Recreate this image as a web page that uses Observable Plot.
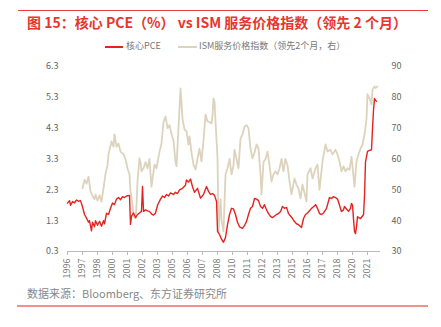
<!DOCTYPE html>
<html><head><meta charset="utf-8">
<script src="https://cdn.jsdelivr.net/npm/d3@7"></script>
<script src="https://cdn.jsdelivr.net/npm/@observablehq/plot@0.6"></script>
<style>
html,body{margin:0;padding:0;background:#fff;}
body{width:441px;height:327px;position:relative;overflow:hidden;font-family:"Noto Sans CJK SC","Noto Sans",sans-serif;}
.abs{position:absolute;white-space:nowrap;}
#topline{left:18px;top:10px;width:410px;height:1px;background:#e8413c;}
#title{left:27px;top:13px;font-size:14px;font-weight:bold;color:#e8352e;line-height:18px;}
#legend{left:0;top:40px;width:441px;height:12px;font-size:9px;color:#777;line-height:12px;}
.sw{position:absolute;top:6px;height:2px;}
#source{left:27px;top:286px;font-size:11px;color:#888;line-height:14px;}
#botline{left:17px;top:305px;width:411px;height:2px;background:#f0928c;}
#chart{position:absolute;left:0;top:50px;}
</style></head>
<body>
<div class="abs" id="topline"></div>
<div class="abs" id="title">图 15：核心 PCE（%） vs ISM 服务价格指数（领先 2 个月）</div>
<div class="abs" id="legend">
  <div class="sw" style="left:105px;width:18px;background:#e3231f;"></div>
  <div class="abs" style="left:126px;top:0;">核心PCE</div>
  <div class="sw" style="left:178px;width:19px;background:#ddd3bd;"></div>
  <div class="abs" style="left:199px;top:0;">ISM服务价格指数（领先2个月，右）</div>
</div>
<div id="chart"></div>
<div class="abs" id="source">数据来源：Bloomberg、东方证券研究所</div>
<div class="abs" id="botline"></div>
<script>
// Core PCE (%), left axis
const pceDates = ["1996-05","1996-07","1996-08","1996-10","1996-12","1997-02","1997-04","1997-06","1997-08","1997-10","1997-12","1998-02","1998-03","1998-05","1998-06","1998-08","1998-09","1998-11","1999-01","1999-03","1999-05","1999-06","1999-08","1999-10","1999-12","2000-02","2000-04","2000-06","2000-08","2000-10","2000-12","2001-02","2001-04","2001-07","2001-08","2001-09","2001-11","2002-01","2002-03","2002-05","2002-07","2002-08","2002-09","2002-11","2003-01","2003-03","2003-05","2003-07","2003-09","2003-11","2004-02","2004-04","2004-06","2004-08","2004-10","2004-12","2005-03","2005-05","2005-07","2005-09","2005-12","2006-03","2006-04","2006-06","2006-08","2006-10","2006-12","2007-03","2007-06","2007-09","2007-12","2008-02","2008-04","2008-06","2008-08","2008-10","2008-11","2009-01","2009-03","2009-05","2009-07","2009-09","2009-11","2010-01","2010-03","2010-05","2010-07","2010-09","2010-12","2011-02","2011-04","2011-06","2011-08","2011-10","2011-12","2012-02","2012-04","2012-06","2012-08","2012-10","2012-12","2013-02","2013-04","2013-06","2013-08","2013-10","2013-12","2014-02","2014-04","2014-06","2014-08","2014-10","2014-12","2015-02","2015-04","2015-06","2015-08","2015-11","2016-01","2016-03","2016-05","2016-07","2016-09","2016-11","2017-01","2017-03","2017-05","2017-07","2017-09","2017-12","2018-03","2018-05","2018-07","2018-09","2018-11","2019-01","2019-03","2019-05","2019-06","2019-08","2019-10","2019-12","2020-01","2020-02","2020-03","2020-04","2020-05","2020-06","2020-07","2020-08","2020-10","2020-12","2021-01","2021-02","2021-03","2021-05","2021-07","2021-09","2021-10","2021-11","2021-12","2022-01","2022-02"];
const pceValues = [1.87,1.95,1.80,1.92,1.88,1.97,1.93,1.95,1.75,1.50,1.38,1.25,1.30,0.97,1.25,1.10,1.30,1.15,1.28,1.12,1.30,1.20,1.54,1.50,1.70,1.87,1.82,2.00,2.05,1.98,2.08,2.05,2.10,2.12,1.18,1.45,1.55,1.40,1.50,1.55,1.60,2.41,1.60,1.65,1.62,1.60,1.52,1.48,1.55,1.80,2.00,2.10,2.05,2.15,2.10,2.20,2.15,2.22,2.18,2.30,2.35,2.45,2.62,2.55,2.65,2.40,2.22,2.35,2.03,2.15,2.41,2.25,2.15,2.18,2.12,1.92,0.95,0.85,0.70,0.60,0.75,1.17,1.50,1.70,1.68,1.50,1.25,1.10,1.05,1.15,1.27,1.50,1.70,1.76,2.02,2.00,1.95,1.76,1.70,1.82,1.65,1.53,1.44,1.40,1.45,1.50,1.53,1.60,1.76,1.70,1.73,1.53,1.45,1.37,1.27,1.20,1.17,1.08,1.37,1.50,1.55,1.62,1.70,1.75,1.82,1.70,1.53,1.50,1.55,1.70,2.05,2.02,2.08,2.05,2.00,1.80,1.60,1.65,1.76,1.68,1.60,1.70,1.86,1.80,1.35,0.95,0.88,1.10,1.43,1.40,1.37,1.45,1.50,2.15,3.20,3.55,3.58,3.60,4.30,4.90,5.26,5.20,5.17];

// ISM services prices index (led 2 months), right axis
const ismDates = ["1997-08","1997-10","1997-12","1998-02","1998-04","1998-06","1998-08","1998-09","1998-11","1999-01","1999-03","1999-05","1999-07","1999-09","1999-10","2000-01","2000-03","2000-04","2000-06","2000-08","2000-10","2001-01","2001-03","2001-05","2001-07","2001-08","2001-10","2001-11","2002-01","2002-02","2002-03","2002-05","2002-06","2002-07","2002-09","2002-11","2003-01","2003-03","2003-05","2003-08","2003-10","2004-01","2004-03","2004-05","2004-07","2004-09","2004-11","2005-01","2005-03","2005-05","2005-06","2005-08","2005-10","2005-12","2006-02","2006-04","2006-06","2006-07","2006-09","2006-11","2007-01","2007-03","2007-05","2007-07","2007-09","2007-11","2008-01","2008-03","2008-05","2008-06","2008-07","2008-08","2008-09","2008-11","2008-12","2009-02","2009-03","2009-05","2009-07","2009-09","2009-11","2010-01","2010-03","2010-04","2010-06","2010-08","2010-10","2010-12","2011-02","2011-04","2011-06","2011-08","2011-10","2011-12","2012-02","2012-04","2012-06","2012-07","2012-09","2012-11","2013-01","2013-03","2013-05","2013-07","2013-09","2013-11","2014-01","2014-03","2014-05","2014-07","2014-09","2014-11","2015-01","2015-04","2015-06","2015-08","2015-10","2015-12","2016-02","2016-04","2016-05","2016-08","2016-10","2017-01","2017-03","2017-05","2017-08","2017-11","2018-01","2018-04","2018-06","2018-09","2018-11","2019-01","2019-03","2019-05","2019-07","2019-09","2019-11","2020-01","2020-03","2020-04","2020-06","2020-08","2020-10","2020-12","2021-02","2021-04","2021-05","2021-07","2021-09","2021-10","2021-12","2022-01","2022-03"];
const ismValues = [50.5,53.3,52.0,54.3,49.5,48.0,46.9,48.5,46.5,48.2,46.2,50.4,55.0,58.0,61.5,65.7,64.0,68.0,64.0,65.0,62.4,61.5,60.0,57.0,55.0,49.5,45.0,41.4,40.7,45.2,52.7,60.2,59.0,56.0,57.0,59.0,57.0,60.0,51.0,58.2,57.0,62.4,65.0,72.0,73.8,70.0,71.0,68.0,66.0,59.0,57.6,70.0,82.9,73.0,69.5,69.0,64.7,67.3,62.0,58.2,56.6,60.0,63.4,59.2,66.0,74.4,72.2,72.0,71.5,74.0,79.6,78.6,72.0,60.0,36.5,47.0,40.0,36.5,55.0,57.0,60.0,55.0,58.0,63.0,60.0,57.0,66.6,68.0,70.5,71.0,70.0,63.4,60.2,62.0,64.7,63.4,55.0,48.5,59.0,60.0,62.4,58.0,52.7,55.0,56.0,55.0,57.0,60.0,56.0,60.0,58.0,52.7,48.5,53.7,51.7,50.4,47.2,51.7,49.0,46.2,55.0,57.0,53.7,57.0,58.2,50.0,59.2,64.7,62.4,63.0,61.5,63.0,61.5,59.2,56.0,57.6,56.0,57.0,56.5,60.8,54.3,51.0,59.2,61.5,63.4,64.7,68.0,73.0,81.0,79.6,77.7,82.5,83.5,83.0,83.5];

// Axis ticks
const leftTicks = [0.3,1.3,2.3,3.3,4.3,5.3,6.3];
const rightTicks = [30,40,50,60,70,80,90];
const xTickDates = ["1996-05","1997-08","1998-11","2000-02","2001-05","2002-08","2003-11","2005-02","2006-05","2007-08","2008-11","2010-02","2011-05","2012-08","2013-11","2015-02","2016-05","2017-08","2018-11","2020-02","2021-05"];
const xDomain = ["1996-05","2022-06"];

const parse = d3.utcParse("%Y-%m");
// right axis value -> left-axis coordinate (30..90 maps onto 0.3..6.3)
const toLeft = v => 0.3 + (v - 30) / 10;

const pce = pceDates.map((d, i) => ({date: parse(d), v: pceValues[i]}));
const ism = ismDates.map((d, i) => ({date: parse(d), v: toLeft(ismValues[i])}));

const chart = Plot.plot({
  width: 441,
  height: 241,
  marginLeft: 67,
  marginRight: 61,
  marginTop: 16,
  marginBottom: 40,
  style: {fontFamily: '"Noto Sans CJK SC","Noto Sans",sans-serif', fontSize: "9px", color: "#666", background: "transparent"},
  x: {type: "utc", domain: xDomain.map(parse)},
  y: {domain: [0.3, 6.3]},
  marks: [
    Plot.axisY({ticks: leftTicks, tickFormat: d => d.toFixed(1), anchor: "left", tickSize: 0, tickPadding: 9, label: null, fill: "#666"}),
    Plot.axisY({ticks: rightTicks.map(toLeft), tickFormat: (d, i) => String(rightTicks[i]), anchor: "right", tickSize: 0, tickPadding: 11, label: null, fill: "#666"}),
    Plot.ruleY([0.3], {stroke: "#bbb", strokeWidth: 1}),
    Plot.axisX({ticks: xTickDates.map(parse), tickFormat: d => String(d.getUTCFullYear()), tickRotate: -90, tickSize: 4, tickPadding: 3, stroke: "#bbb", label: null, fill: "#777"}),
    Plot.lineY(ism, {x: "date", y: "v", stroke: "#ddd3bd", strokeWidth: 1.8}),
    Plot.lineY(pce, {x: "date", y: "v", stroke: "#e3231f", strokeWidth: 1.4})
  ]
});
document.getElementById("chart").appendChild(chart);
</script>
</body></html>
